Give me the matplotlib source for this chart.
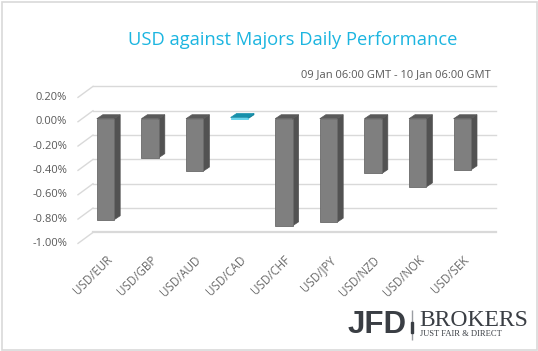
import matplotlib
matplotlib.use('Agg')
import matplotlib.pyplot as plt
from matplotlib.patches import Polygon, Rectangle
from matplotlib.lines import Line2D
from matplotlib.transforms import IdentityTransform

# data (percent change, USD vs majors)
pairs = ['USD/EUR', 'USD/GBP', 'USD/AUD', 'USD/CAD', 'USD/CHF',
         'USD/JPY', 'USD/NZD', 'USD/NOK', 'USD/SEK']
changes = [-0.83, -0.32, -0.43, 0.01, -0.88, -0.85, -0.45, -0.56, -0.42]
tick_vals = [0.2, 0.0, -0.2, -0.4, -0.6, -0.8, -1.0]
tick_labels = ['0.20%', '0.00%', '-0.20%', '-0.40%', '-0.60%', '-0.80%', '-1.00%']

W, H = 538, 351
fig = plt.figure(figsize=(W / 100, H / 100), dpi=100)
fig.patch.set_facecolor('white')
ax = fig.add_axes([60.9 / W, 1 - 246.5 / H, 446 / W, 158.2 / H])
ax.set_xlim(-1, 9)
ax.set_ylim(-1.05, 0.25)
ax.axis('off')

grey_txt = '#595959'
grid_c = '#d9d9d9'
ID = IdentityTransform()


# convert a data point into pixel coords, with an optional pixel shift (dy up)
def px(x, y, dx=0, dy=0):
    X, Y = ax.transData.transform((x, y))
    return (X + dx, Y + dy)


# depth offsets in pixels relative to the bar plane
FRONT = (-4, -3)
BACK = (11, 8)
DEPTH = (6, 4)
gx0, gx1 = -0.527, 8.51

# back wall gridlines + left side wall lines
for v, lab in zip(tick_vals, tick_labels):
    a = px(gx0, v, *BACK)
    b = px(gx1, v, *BACK)
    c = px(gx0, v, *FRONT)
    lw = 1.6 if v == tick_vals[-1] else 1.0
    ax.add_line(Line2D([a[0], b[0]], [a[1], b[1]], transform=ID, color=grid_c,
                       lw=lw, zorder=1, clip_on=False))
    ax.add_line(Line2D([c[0], a[0]], [c[1], a[1]], transform=ID, color=grid_c,
                       lw=1.0, zorder=1, clip_on=False))
    fig.text(c[0] - 11, c[1], lab, transform=ID,
             ha='right', va='center', fontsize=8, color=grey_txt, family='Open Sans')

# bars drawn as pseudo 3d boxes
bw = 0.39
for i, (name, v) in enumerate(zip(pairs, changes)):
    pos = v > 0
    front_c = '#5fd3ec' if pos else '#7f7f7f'
    side_c = '#0f7f98' if pos else '#525252'
    top_c = '#1690ab' if pos else '#5a5a5a'
    xl, xr = i - bw / 2, i + bw / 2
    top = max(v, 0)
    bot = min(v, 0)
    # side face
    side = [px(xr, top), px(xr, bot), px(xr, bot, *DEPTH), px(xr, top, *DEPTH)]
    ax.add_patch(Polygon(side, closed=True, transform=ID, facecolor=side_c,
                         edgecolor=side_c, lw=0.5, zorder=3, clip_on=False))
    # top face
    tp = [px(xl, top), px(xr, top), px(xr, top, *DEPTH), px(xl, top, *DEPTH)]
    ax.add_patch(Polygon(tp, closed=True, transform=ID, facecolor=top_c,
                         edgecolor=top_c, lw=0.5, zorder=3, clip_on=False))
    # front face
    ax.bar(i, v, width=bw, color=front_c, edgecolor='#6a6a6a' if not pos else front_c,
           lw=0.6, zorder=4, clip_on=False)
    # category label
    lx, ly = px(i, -1.05, 0, -7)
    fig.text(lx, ly, name, transform=ID, rotation=45, ha='right', va='top',
             rotation_mode='anchor', fontsize=8.3, color='#6b6b6b', family='Open Sans')

# titles
fig.text(293 / W, 1 - 40 / H, 'USD against Majors Daily Performance', ha='center', va='center',
         fontsize=13.2, color='#1cb5e0', family='Open Sans')
fig.text(491 / W, 1 - 75 / H, '09 Jan 06:00 GMT - 10 Jan 06:00 GMT', ha='right', va='center',
         fontsize=8, color=grey_txt, family='Open Sans')

# logo
logo_c = '#3a3e44'
fig.text(348 / W, 1 - 325 / H, 'JFD', ha='left', va='center', fontsize=22.5, fontweight='bold',
         color=logo_c, family=['Liberation Sans Narrow', 'Liberation Sans'])
fig.add_artist(Rectangle((411.5 / W, 1 - 340 / H), 0.8 / W, 30 / H, color='#9a9da2'))
fig.add_artist(Rectangle((410.6 / W, 1 - 333 / H), 2.6 / W, 11 / H, color=logo_c))
fig.text(419 / W, 1 - 321 / H, 'BROKERS', ha='left', va='center', fontsize=17,
         color=logo_c, family='Liberation Serif')
fig.text(420 / W, 1 - 334.5 / H, 'JUST FAIR & DIRECT', ha='left', va='center', fontsize=6.1,
         color=logo_c, family='Liberation Serif')

# outer border
fig.add_artist(Rectangle((2 / W, 1.5 / H), 534.5 / W, 347.5 / H, fill=False,
                         edgecolor='#d9d9d9', lw=1.2))

fig.savefig('out.png', dpi=100)
